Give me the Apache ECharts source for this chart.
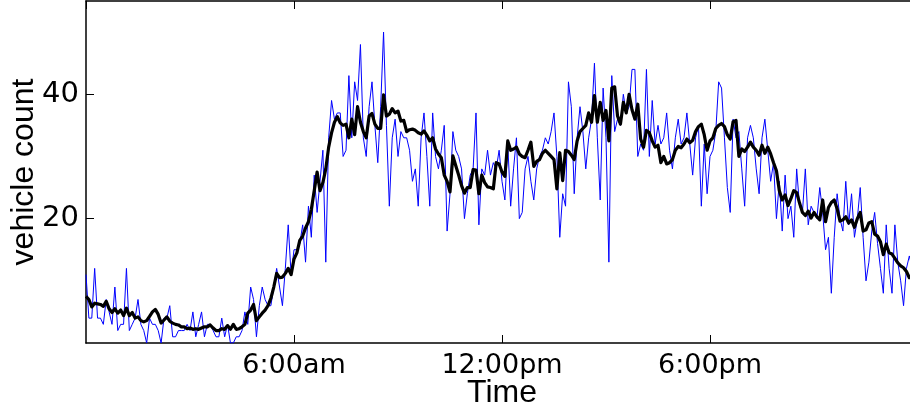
<!DOCTYPE html>
<html>
<head>
<meta charset="utf-8">
<script src="https://cdn.jsdelivr.net/npm/echarts@6/dist/echarts.min.js"></script>
<style>
  html, body { margin: 0; padding: 0; background: #fff; }
  #chart { width: 910px; height: 412px; }
</style>
</head>
<body>
<div id="chart"></div>
<script>
// Vehicle counts over one day, sampled every 5 minutes (288 samples from 0:00).
const sampleMinutes = 5;

// Tick positions (minutes after midnight) and their labels.
const tickMinutes = [360, 720, 1080];
const tickLabels = ['6:00am', '12:00pm', '6:00pm'];
const countTicks = [20, 40];

// Raw 5-minute counts.
const rawCounts = [
  11, 4, 4, 12, 4, 4, 3, 7, 5, 3, 9, 2, 3, 3, 12, 2, 3, 4, 7, 3,
  2, 0, 4, 3, 3, 2, 0, 4, 4, 6, 1, 1, 2, 2, 2, 3, 2, 5, 1, 3,
  5, 1, 3, 3, 2, 1, 1, 4, 1, 3, 0, 0, 1, 1, 2, 5, 3, 9, 7, 1,
  6, 9, 7, 6, 6, 9, 12, 9, 6, 12, 19, 11, 15, 15, 16, 19, 13, 22, 17, 27,
  21, 26, 31, 13, 33, 39, 36, 37, 37, 30, 31, 43, 33, 42, 39, 48, 33, 30, 38, 42,
  35, 29, 38, 50, 35, 22, 33, 36, 30, 34, 33, 33, 31, 26, 28, 22, 33, 37, 30, 22,
  37, 30, 28, 31, 35, 18, 24, 34, 31, 30, 28, 20, 24, 27, 28, 37, 19, 28, 27, 31,
  27, 29, 28, 31, 26, 23, 32, 22, 28, 33, 20, 21, 28, 30, 26, 23, 28, 30, 31, 33,
  32, 34, 37, 30, 17, 24, 22, 42, 38, 24, 33, 38, 34, 28, 33, 36, 45, 33, 23, 41,
  33, 13, 43, 34, 36, 35, 40, 37, 38, 44, 44, 30, 32, 31, 44, 30, 39, 32, 35, 32,
  33, 37, 31, 28, 33, 36, 32, 33, 37, 32, 27, 33, 35, 22, 32, 24, 30, 31, 34, 42,
  41, 33, 25, 21, 36, 33, 34, 28, 22, 33, 35, 33, 28, 24, 33, 36, 31, 26, 29, 20,
  26, 18, 27, 20, 22, 17, 28, 22, 21, 28, 19, 22, 21, 20, 25, 21, 15, 17, 8, 17,
  24, 20, 18, 26, 19, 24, 17, 20, 25, 17, 10, 13, 18, 21, 16, 12, 8, 19, 12, 8,
  19, 13, 10, 6, 12, 14, 12, 10
];

// Smoothed counts (running average of the raw counts).
const smoothedCounts = [
  7.5, 7.0, 5.8, 6.4, 6.3, 6.2, 5.9, 6.7, 5.5, 4.9, 5.5, 4.8, 5.3, 4.4, 5.6, 4.4, 4.9, 4.0, 4.2, 3.6,
  3.4, 3.6, 4.3, 5.0, 5.4, 4.6, 3.2, 3.7, 4.2, 3.5, 3.2, 3.0, 2.9, 2.6, 2.6, 2.3, 2.4, 2.2, 2.3, 2.2,
  2.4, 2.6, 2.6, 2.9, 2.4, 2.0, 2.0, 2.3, 2.2, 2.8, 2.2, 3.0, 2.2, 2.3, 2.6, 3.0, 4.8, 5.3, 6.2, 3.6,
  4.2, 4.8, 5.3, 6.0, 7.2, 9.0, 11.2, 10.5, 10.6, 11.2, 12.0, 11.0, 13.5, 14.5, 16.5, 17.2, 18.5, 19.5, 21.5, 24.5,
  27.5, 24.5, 25.8, 28.0, 31.5, 33.8, 35.5, 36.4, 35.4, 35.0, 35.2, 33.0, 36.0, 33.5, 38.0, 35.5, 34.0, 33.0, 36.5, 36.9,
  35.2, 34.5, 34.5, 39.9, 36.5, 36.8, 37.7, 37.0, 37.3, 35.7, 35.8, 34.0, 34.3, 34.4, 34.2, 33.8, 33.6, 34.1, 33.4, 32.5,
  33.0, 31.2, 30.4, 29.8, 27.0, 26.0, 24.3, 30.1, 28.5, 27.0, 25.3, 24.1, 25.0, 25.0, 27.9, 27.8, 24.0, 27.0, 25.8, 25.1,
  25.0, 24.8, 29.0, 28.8, 27.5, 26.8, 32.5, 31.0, 31.2, 31.5, 30.4, 30.0, 29.8, 31.0, 32.3, 28.4, 29.2, 29.5, 30.5, 31.0,
  30.5, 30.0, 29.5, 24.8, 30.6, 26.1, 31.0, 30.8, 30.2, 29.5, 32.5, 34.0, 34.5, 35.0, 37.0, 35.5, 39.8, 35.5, 38.7, 35.8,
  37.4, 32.5, 41.0, 41.2, 36.5, 35.2, 38.7, 37.0, 40.0, 37.5, 36.0, 38.4, 32.8, 31.5, 34.2, 33.8, 32.5, 31.5, 31.8, 29.0,
  30.0, 28.8, 29.0, 29.5, 31.0, 31.6, 31.4, 32.0, 32.8, 32.2, 32.6, 34.0, 34.8, 35.2, 33.5, 31.0, 32.5, 33.0, 34.5, 35.0,
  35.3, 34.8, 33.5, 32.8, 35.6, 35.8, 30.0, 31.2, 30.8, 31.5, 32.3, 31.5, 31.0, 30.2, 31.8, 30.5, 31.5, 30.4, 29.0, 27.7,
  24.5, 23.0, 23.8, 22.1, 23.2, 24.5, 24.2, 22.5, 21.0, 20.5, 21.2, 20.1, 21.0, 20.3, 19.8, 23.0, 19.5, 21.8, 22.6, 23.0,
  21.6, 19.6, 19.8, 20.3, 19.3, 19.8, 18.6, 20.0, 21.0, 18.0, 18.2, 19.3, 19.5, 17.5, 17.2, 16.3, 14.2, 15.9, 14.5, 14.3,
  13.6, 12.9, 12.4, 12.1, 11.5, 10.5, 10.5, 10.3
];

const toPairs = arr => arr.map((v, i) => [i * sampleMinutes, v]);

const labelFont = 'DejaVu Sans';
const nameFont = 'Liberation Sans';

const baseX = {
  type: 'value', min: 0, max: 1440, interval: 360,
  splitLine: { show: false },
  axisLine: { show: true, onZero: false, lineStyle: { color: '#000', width: 1.5 } },
  axisTick: { show: true, inside: true, length: 8, lineStyle: { color: '#000', width: 1 } }
};
const baseY = {
  type: 'value', min: 0, max: 55, interval: 20,
  splitLine: { show: false },
  axisLine: { show: true, onZero: false, lineStyle: { color: '#000', width: 1.5 } },
  axisTick: { show: true, inside: true, length: 8, lineStyle: { color: '#000', width: 1 } }
};

const chart = echarts.init(document.getElementById('chart'), null, { renderer: 'canvas' });
chart.setOption({
  animation: false,
  backgroundColor: '#fff',
  // The frame runs a little past the right edge of the canvas, so the layout
  // must not be squeezed to keep it inside.
  grid: { left: 86, top: 1, width: 832, height: 342, containLabel: false, outerBoundsMode: 'none' },
  xAxis: [
    Object.assign({}, baseX, {
      position: 'bottom',
      name: 'Time', nameLocation: 'middle', nameGap: 34, nameMoveOverlap: false,
      nameTextStyle: { fontFamily: nameFont, fontSize: 32, color: '#000' },
      axisLabel: {
        show: true, margin: 9, color: '#000', fontFamily: labelFont, fontSize: 27,
        showMinLabel: false, showMaxLabel: false,
        formatter: v => { const k = tickMinutes.indexOf(v); return k >= 0 ? tickLabels[k] : ''; }
      }
    }),
    Object.assign({}, baseX, { position: 'top', axisLabel: { show: false } })
  ],
  yAxis: [
    Object.assign({}, baseY, {
      position: 'left',
      name: 'vehicle count', nameLocation: 'middle', nameGap: 46, nameMoveOverlap: false,
      nameTextStyle: { fontFamily: nameFont, fontSize: 32, color: '#000' },
      axisLabel: {
        show: true, margin: 7, color: '#000', fontFamily: labelFont, fontSize: 29,
        showMinLabel: false, showMaxLabel: false,
        formatter: v => countTicks.indexOf(v) >= 0 ? String(v) : ''
      }
    }),
    Object.assign({}, baseY, { position: 'right', axisLabel: { show: false } })
  ],
  series: [
    {
      type: 'line', xAxisIndex: 0, yAxisIndex: 0,
      data: toPairs(rawCounts),
      symbol: 'none', clip: true,
      lineStyle: { color: '#0000ff', width: 1 },
      z: 2
    },
    {
      type: 'line', xAxisIndex: 0, yAxisIndex: 0,
      data: toPairs(smoothedCounts),
      symbol: 'none', clip: true,
      lineStyle: { color: '#000', width: 3.2, join: 'round' },
      z: 3
    }
  ]
});
</script>
</body>
</html>
